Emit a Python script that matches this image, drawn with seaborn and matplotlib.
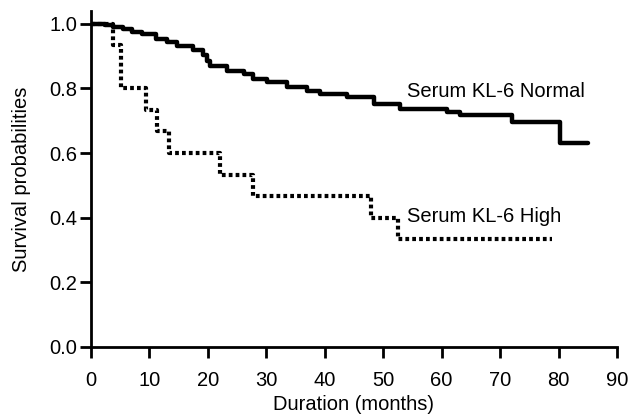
import numpy as np
import pandas as pd
import matplotlib
matplotlib.use('Agg')
import matplotlib.pyplot as plt
import seaborn as sns

# step survival curves (months, probability)
normal_months = [0, 2.4, 3.8, 5.5, 7.0, 8.7, 11.2, 13.0, 14.7, 17.5, 19.2, 19.8, 20.4,
                 23.2, 26.1, 27.8, 30.1, 33.5, 36.9, 39.2, 43.8, 48.4, 52.9, 60.9,
                 63.2, 72.0, 80.3, 85.1]
normal_surv = [1.0, 0.995, 0.99, 0.984, 0.976, 0.969, 0.953, 0.943, 0.931, 0.92, 0.902,
               0.886, 0.869, 0.855, 0.845, 0.829, 0.821, 0.803, 0.793, 0.783, 0.772,
               0.752, 0.736, 0.728, 0.717, 0.697, 0.632, 0.632]

high_months = [0, 3.8, 5.1, 9.5, 11.3, 13.3, 22.1, 27.8, 47.9, 52.6, 78.8]
high_surv = [1.0, 0.933, 0.8, 0.733, 0.667, 0.6, 0.533, 0.467, 0.4, 0.333, 0.333]

x_ticks = [0, 10, 20, 30, 40, 50, 60, 70, 80, 90]
y_ticks = [0.0, 0.2, 0.4, 0.6, 0.8, 1.0]

df_normal = pd.DataFrame({'months': normal_months, 'surv': normal_surv})
df_high = pd.DataFrame({'months': high_months, 'surv': high_surv})

sns.set_style('ticks')
plt.rcParams['font.family'] = ['Liberation Sans', 'DejaVu Sans']
plt.rcParams['text.color'] = 'black'
plt.rcParams['axes.labelcolor'] = 'black'

fig = plt.figure(figsize=(6.3, 4.18), dpi=100)
ax = fig.add_axes([0.1444, 0.170, 0.8349, 0.804])

sns.lineplot(data=df_normal, x='months', y='surv', ax=ax, color='black',
             linewidth=3.2, drawstyle='steps-post', estimator=None, sort=False)
sns.lineplot(data=df_high, x='months', y='surv', ax=ax, color='black',
             linewidth=3.0, drawstyle='steps-post', estimator=None, sort=False,
             linestyle=(0, (0.9, 0.75)), dash_capstyle='butt')

ax.text(54.0, 0.789, 'Serum KL-6 Normal', fontsize=14.5, va='center', ha='left')
ax.text(54.0, 0.404, 'Serum KL-6 High', fontsize=14.5, va='center', ha='left')

ax.set_xlim(0, 90)
ax.set_ylim(0, 1.04)
ax.set_xticks(x_ticks)
ax.set_yticks(y_ticks)
ax.set_yticklabels([f'{v:.1f}' for v in y_ticks])
ax.tick_params(axis='both', labelsize=14.5, width=2, length=8, color='black',
               labelcolor='black')
ax.tick_params(axis='x', pad=9)
ax.tick_params(axis='y', pad=2)
ax.set_xlabel('Duration (months)', fontsize=14.5, labelpad=4)
ax.set_ylabel('Survival probabilities', fontsize=14.5, labelpad=13)
for side in ['left', 'bottom']:
    ax.spines[side].set_linewidth(2)
    ax.spines[side].set_color('black')
sns.despine(ax=ax)

fig.savefig('out.png', dpi=100)
